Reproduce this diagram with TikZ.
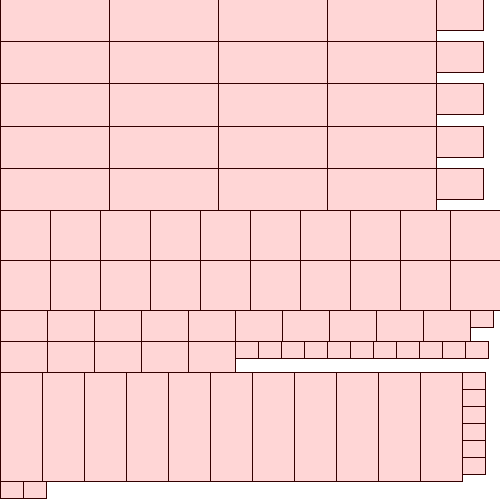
\documentclass[tikz,border=0pt]{standalone}
\definecolor{cellfill}{HTML}{FFD6D6}
\definecolor{cellline}{HTML}{330000}
\tikzset{cell/.style={fill=cellfill,draw=cellline,line width=1pt}}
\begin{document}
\begin{tikzpicture}[x=1pt,y=-1pt]
\useasboundingbox (0,0) rectangle (500,500);
% top five rows
\foreach \r in {0,...,4}{
  \foreach \i in {0,...,3}{
    \draw[cell] (109*\i,42*\r) rectangle (109*\i+109,42*\r+42);
  }
  \draw[cell] (436,42*\r) rectangle (483,42*\r+31);
}
% two rows of 50x50
\foreach \r in {0,1}{
  \foreach \i in {0,...,9}{
    \draw[cell] (50*\i,210+50*\r) rectangle (50*\i+50,260+50*\r);
  }
}
% row of 47 wide
\foreach \i in {0,...,9}{
  \draw[cell] (47*\i,310) rectangle (47*\i+47,341);
}
\draw[cell] (470,310) rectangle (493,327);
% next row
\foreach \i in {0,...,4}{
  \draw[cell] (47*\i,341) rectangle (47*\i+47,372);
}
\foreach \i in {0,...,10}{
  \draw[cell] (235+23*\i,341) rectangle (258+23*\i,358);
}
% tall row
\foreach \i in {0,...,10}{
  \draw[cell] (42*\i,372) rectangle (42*\i+42,481);
}
\foreach \j in {0,...,5}{
  \draw[cell] (462,372+17*\j) rectangle (485,389+17*\j);
}
% bottom small boxes
\draw[cell] (0,481) rectangle (23,498);
\draw[cell] (23,481) rectangle (46,498);
\end{tikzpicture}
\end{document}
